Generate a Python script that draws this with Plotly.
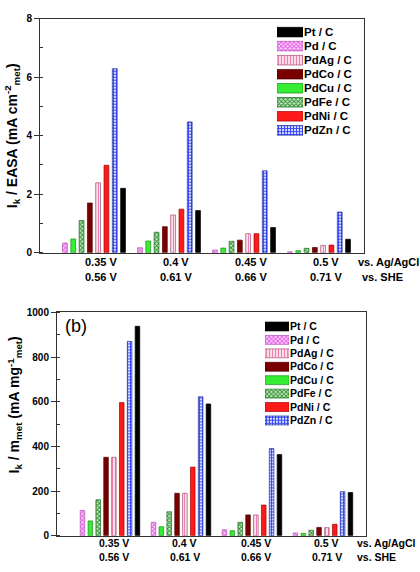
import plotly.graph_objects as go

# ---------------- data ----------------
potential_agagcl = ["0.35 V", "0.4 V", "0.45 V", "0.5 V"]
potential_she = ["0.56 V", "0.61 V", "0.66 V", "0.71 V"]
group_pos = [0, 1, 2, 3]

legend_order = ["Pt / C", "Pd / C", "PdAg / C", "PdCo / C", "PdCu / C", "PdFe / C", "PdNi / C", "PdZn / C"]
bar_order = ["Pd / C", "PdCu / C", "PdFe / C", "PdCo / C", "PdAg / C", "PdNi / C", "PdZn / C", "Pt / C"]

# Specific activity  Ik / EASA (mA cm-2)
easa_pd = [0.33, 0.17, 0.09, 0.03]
easa_pdcu = [0.47, 0.40, 0.16, 0.07]
easa_pdfe = [1.10, 0.70, 0.39, 0.15]
easa_pdco = [1.70, 0.89, 0.43, 0.18]
easa_pdag = [2.39, 1.29, 0.65, 0.25]
easa_pdni = [2.99, 1.49, 0.65, 0.26]
easa_pdzn = [6.29, 4.47, 2.80, 1.39]
easa_pt = [2.20, 1.44, 0.86, 0.46]

# Mass activity  Ik / m_met (mA mg-1)
mass_pd = [113, 60, 26, 12]
mass_pdcu = [66, 40, 22, 10]
mass_pdfe = [161, 107, 60, 24]
mass_pdco = [351, 190, 93, 37]
mass_pdag = [351, 190, 93, 36]
mass_pdni = [596, 307, 137, 51]
mass_pdzn = [870, 622, 390, 197]
mass_pt = [938, 590, 363, 193]

legend_swatch = [1]

easa = {"Pd / C": easa_pd, "PdCu / C": easa_pdcu, "PdFe / C": easa_pdfe, "PdCo / C": easa_pdco,
        "PdAg / C": easa_pdag, "PdNi / C": easa_pdni, "PdZn / C": easa_pdzn, "Pt / C": easa_pt}
mass = {"Pd / C": mass_pd, "PdCu / C": mass_pdcu, "PdFe / C": mass_pdfe, "PdCo / C": mass_pdco,
        "PdAg / C": mass_pdag, "PdNi / C": mass_pdni, "PdZn / C": mass_pdzn, "Pt / C": mass_pt}

# ---------------- styles ----------------
style = {
    "Pt / C":   dict(color="#000000", line="#000000", shape="", fg=None),
    "Pd / C":   dict(color="#ffd6ff", line="#b050b0", shape="x", fg="#e055e0"),
    "PdAg / C": dict(color="#ffffff", line="#a05070", shape="|", fg="#ee7fae"),
    "PdCo / C": dict(color="#7a0000", line="#4a0000", shape="", fg=None),
    "PdCu / C": dict(color="#33ee33", line="#1a8a1a", shape="", fg=None),
    "PdFe / C": dict(color="#c6ecc6", line="#1a6a1a", shape="x", fg="#2d8a2d"),
    "PdNi / C": dict(color="#ff1a1a", line="#a00000", shape="", fg=None),
    "PdZn / C": dict(color="#d6dcff", line="#1a2a9a", shape="+", fg="#2a3cff"),
}

W, H = 420, 572
FONT = "Liberation Sans, Arial, sans-serif"


def py(px):
    return 1 - px / H


def px_x(px):
    return px / W


def marker_for(name):
    s = style[name]
    m = dict(color=s["color"], line=dict(color=s["line"], width=0.7))
    if s["shape"]:
        m["pattern"] = dict(shape=s["shape"], fgcolor=s["fg"], bgcolor=s["color"],
                            size=3, solidity=0.5, fillmode="replace")
    return m


fig = go.Figure()

# main bars
for name in bar_order:
    fig.add_trace(go.Bar(x=group_pos, y=easa[name], name=name, marker=marker_for(name),
                         xaxis="x", yaxis="y", showlegend=False))
for name in bar_order:
    fig.add_trace(go.Bar(x=group_pos, y=mass[name], name=name, marker=marker_for(name),
                         xaxis="x2", yaxis="y2", showlegend=False))

# custom legends: one small horizontal bar per series, in dedicated mini axes
for name in legend_order:
    fig.add_trace(go.Bar(x=legend_swatch, y=[name], orientation="h", width=0.68, offset=-0.34,
                         marker=marker_for(name), xaxis="x3", yaxis="y3", showlegend=False))
    fig.add_trace(go.Bar(x=legend_swatch, y=[name], orientation="h", width=0.66, offset=-0.33,
                         marker=marker_for(name), xaxis="x4", yaxis="y4", showlegend=False))

axis_line = dict(showline=True, linecolor="#333333", linewidth=1, mirror=True,
                 showgrid=False, zeroline=False)
tickfont = dict(family=FONT, size=10, color="#000", weight="bold")

fig.update_layout(
    width=W, height=H, margin=dict(l=0, r=0, t=0, b=0),
    paper_bgcolor="white", plot_bgcolor="white",
    barmode="group", bargap=0.115, bargroupgap=0.42,
    font=dict(family=FONT, color="#000"),
    xaxis=dict(domain=[px_x(40), px_x(364)], range=[-0.72, 3.6], showticklabels=False,
               ticks="", anchor="y", **axis_line),
    yaxis=dict(domain=[py(252), py(13)], range=[0, 8], dtick=2, ticks="outside", ticklen=5,
               tickwidth=1, tickcolor="#333", tickfont=tickfont, anchor="x",
               minor=dict(dtick=1, ticks="inside", ticklen=3, tickcolor="#333"), **axis_line),
    xaxis2=dict(domain=[px_x(57), px_x(366)], range=[-0.746, 3.606], showticklabels=False,
                ticks="", anchor="y2", **axis_line),
    yaxis2=dict(domain=[py(541), py(313)], range=[0, 1000], dtick=200, ticks="outside", ticklen=5,
                tickwidth=1, tickcolor="#333", tickfont=tickfont, anchor="x2",
                minor=dict(dtick=100, ticks="inside", ticklen=3, tickcolor="#333"), **axis_line),
    xaxis3=dict(domain=[px_x(277), px_x(303)], range=[0, 1], visible=False, anchor="y3"),
    yaxis3=dict(domain=[py(134.2), py(19.5)], type="category", categoryarray=legend_order,
                categoryorder="array", autorange="reversed", side="right", anchor="x3",
                showline=False, showgrid=False, zeroline=False, ticks="",
                tickfont=dict(family=FONT, size=11.5, color="#000", weight="bold")),
    xaxis4=dict(domain=[px_x(265), px_x(289)], range=[0, 1], visible=False, anchor="y4"),
    yaxis4=dict(domain=[py(430.2), py(320.5)], type="category", categoryarray=legend_order,
                categoryorder="array", autorange="reversed", side="right", anchor="x4",
                showline=False, showgrid=False, zeroline=False, ticks="",
                tickfont=dict(family=FONT, size=10.5, color="#000", weight="bold")),
)

ann = []
lab_font_top = dict(family=FONT, size=11, color="#000", weight="bold")
lab_font_bot = dict(family=FONT, size=10.5, color="#000", weight="bold")
for i, g in enumerate(group_pos):
    ann.append(dict(x=g, y=py(261), xref="x", yref="paper", text=potential_agagcl[i], xshift=7,
                    showarrow=False, font=lab_font_top, xanchor="center", yanchor="middle"))
    ann.append(dict(x=g, y=py(277), xref="x", yref="paper", text=potential_she[i], xshift=7,
                    showarrow=False, font=lab_font_top, xanchor="center", yanchor="middle"))
    ann.append(dict(x=g, y=py(549), xref="x2", yref="paper", text=potential_agagcl[i], xshift=4,
                    showarrow=False, font=lab_font_bot, xanchor="center", yanchor="middle"))
    ann.append(dict(x=g, y=py(563), xref="x2", yref="paper", text=potential_she[i], xshift=4,
                    showarrow=False, font=lab_font_bot, xanchor="center", yanchor="middle"))

ann += [
    dict(x=px_x(356), y=py(261), xref="paper", yref="paper", text="vs. Ag/AgCl", showarrow=False,
         font=lab_font_top, xanchor="left", yanchor="middle"),
    dict(x=px_x(360), y=py(277), xref="paper", yref="paper", text="vs. SHE", showarrow=False,
         font=lab_font_top, xanchor="left", yanchor="middle"),
    dict(x=px_x(355), y=py(549), xref="paper", yref="paper", text="vs. Ag/AgCl", showarrow=False,
         font=lab_font_bot, xanchor="left", yanchor="middle"),
    dict(x=px_x(355), y=py(563), xref="paper", yref="paper", text="vs. SHE", showarrow=False,
         font=lab_font_bot, xanchor="left", yanchor="middle"),
    dict(x=px_x(12), y=py(133), xref="paper", yref="paper", textangle=-90, showarrow=False,
         text="I<sub>k</sub> / EASA (mA cm<sup>-2</sup><sub>met</sub>)",
         font=dict(family=FONT, size=14, color="#000", weight="bold"), xanchor="center", yanchor="middle"),
    dict(x=px_x(15), y=py(408), xref="paper", yref="paper", textangle=-90, showarrow=False,
         text="I<sub>k</sub> / m<sub>met</sub> (mA mg<sup>-1</sup><sub>met</sub>)",
         font=dict(family=FONT, size=14, color="#000", weight="bold"), xanchor="center", yanchor="middle"),
    dict(x=px_x(63), y=py(327), xref="paper", yref="paper", text="(b)", showarrow=False,
         font=dict(family=FONT, size=18, color="#000"), xanchor="left", yanchor="middle"),
]
fig.update_layout(annotations=ann)

fig.write_html("out.html")
